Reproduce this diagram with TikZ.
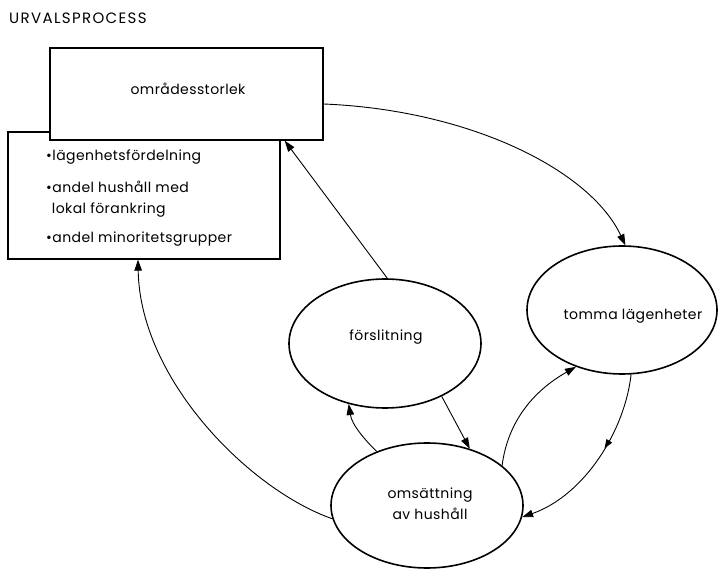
\documentclass[tikz,border=0pt]{standalone}
\usepackage{fontspec}
\setmainfont{Poppins}[LetterSpace=3]
\newfontfamily\headfont{Poppins}[LetterSpace=9]
\usetikzlibrary{arrows.meta,shapes.geometric,decorations.markings}

\begin{document}
\begin{tikzpicture}[x=1pt,y=-1pt,
  txt/.style={font=\fontsize{14}{20.5}\selectfont, inner sep=0pt},
  frame/.style={draw, line width=1.4pt, rectangle, inner sep=0pt},
  oval/.style={draw, ellipse, line width=1.6pt, inner sep=0pt},
  tip/.style={-{Triangle[length=11pt,width=7.5pt]}},
  link/.style={line width=0.9pt, tip},
  midtip/.style={postaction={decorate}, decoration={markings,
      mark=at position 0.42 with {\arrow{Triangle[length=9pt,width=6.5pt]}}}},
]
\useasboundingbox (0,0) rectangle (718,569);

% title
\node[txt, font=\headfont\fontsize{15}{20}\selectfont, anchor=west] (title) at (9,18) {URVALSPROCESS};

% the two overlapping boxes: lower list box first, size box on top
\node[frame, minimum width=272pt, minimum height=127pt] (attr) at (144,195.5) {};
\node[frame, fill=white, minimum width=273pt, minimum height=92pt] (size) at (186.5,94) {};
\node[txt] (sizeText) at (188,89) {områdesstorlek};

\node[txt, anchor=west] (item1) at (46,157) {•lägenhetsfördelning};
\node[txt, anchor=north west, align=left] (item2) at (46,181) {•andel hushåll med\\\phantom{•}lokal förankring};
\node[txt, anchor=west] (item3) at (46,239) {•andel minoritetsgrupper};

% the three processes
\node[oval, minimum width=192pt, minimum height=129pt] (fors) at (385,343.5) {};
\node[txt] (forsText) at (386,337) {förslitning};

\node[oval, minimum width=190pt, minimum height=128pt] (tomma) at (622,310) {};
\node[txt] (tommaText) at (633,316) {tomma lägenheter};

\node[oval, minimum width=192pt, minimum height=125pt] (oms) at (427,505.5) {};
\node[txt, align=center] (omsText) at (430,503.5) {omsättning\\av hushåll};

% connectors
\draw[link] ([yshift=-10pt]size.east) .. controls (470,110) and (590,170) .. (tomma.87);
\draw[link] (fors.88) -- ([xshift=-39pt]size.south east);
\draw[link] (oms.188) .. controls (250,490) and (140,380) .. ([xshift=-6pt]attr.south);
\draw[link] (oms.133) .. controls (365,440) and (352,425) .. (fors.239);
\draw[link] (fors.317) -- (oms.53);
\draw[link] (oms.28) .. controls (508,420) and (535,390) .. (tomma.231);
\draw[link, midtip] (tomma.278) .. controls (625,430) and (585,495) .. (oms.353);
\end{tikzpicture}
\end{document}
